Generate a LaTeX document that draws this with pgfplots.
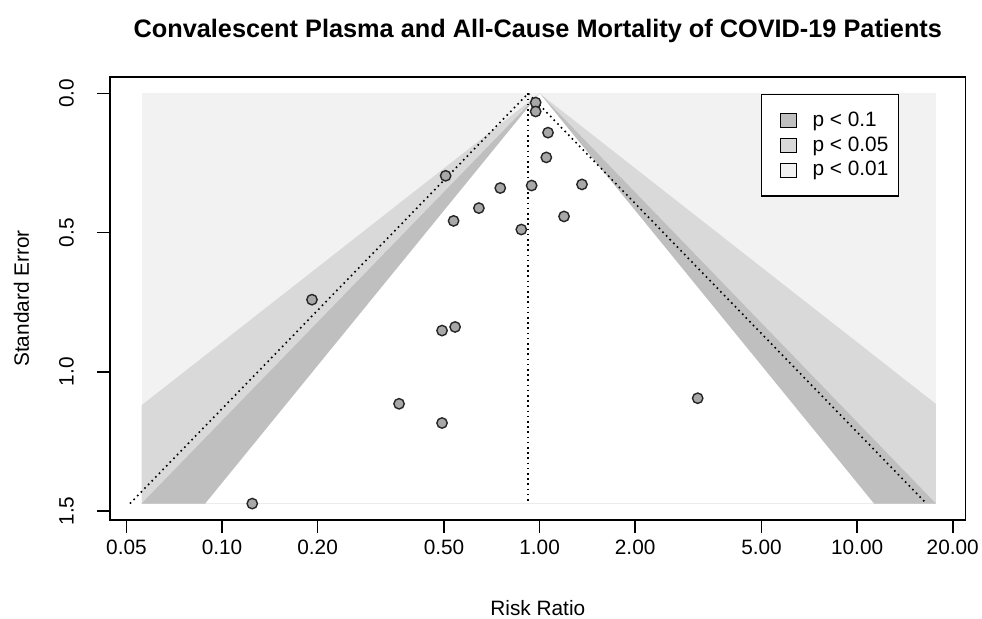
\documentclass[border=0pt]{standalone}
\usepackage{pgfplots}
\pgfplotsset{compat=1.18}
\usepackage{fontspec}
\setmainfont{Liberation Sans}
\definecolor{shadeA}{HTML}{BFBFBF}
\definecolor{shadeB}{HTML}{D9D9D9}
\definecolor{shadeC}{HTML}{F2F2F2}
\definecolor{ptfill}{HTML}{A8A8A8}
\pgfplotsset{
  sqlegend/.style={legend image code/.code={\path[draw=none, fill=none] (0pt,0pt) -- (14.4pt,0pt); \draw[##1, line width=0.5pt] (6.4pt,-3.5pt) rectangle (14.4pt,3.5pt);}},
}
\begin{document}
\begin{tikzpicture}
\path[use as bounding box] (-55pt,-49.5pt) rectangle (436pt,260pt);
\begin{axis}[
  scale only axis, width=427.85pt, height=221.5pt,
  xmode=log, xmin=0.04438, xmax=21.97,
  ymin=-0.0589, ymax=1.5324, y dir=reverse,
  axis line style={line width=0.8pt},
  every tick/.style={black, line width=0.8pt},
  major tick length=6.5pt,
  tick align=outside, xtick pos=bottom, ytick pos=left,
  xtick={0.05,0.1,0.2,0.5,1,2,5,10,20},
  xticklabels={0.05,0.10,0.20,0.50,1.00,2.00,5.00,10.00,20.00},
  ytick={0,0.5,1,1.5},
  yticklabels={0.0,0.5,1.0,1.5},
  minor xtick={}, minor ytick={},
  /pgf/number format/assume math mode=true,
  tick label style={font=\fontsize{10.4}{12}\selectfont},
  yticklabel style={rotate=90, anchor=south},
  yticklabel shift=8pt,
  label style={font=\fontsize{10.4}{12}\selectfont},
  xlabel={Risk Ratio},
  ylabel={Standard Error},
  xlabel style={at={(0.5,0)}, anchor=base, yshift=-48pt},
  ylabel style={at={(-0.0947,0.5)}, anchor=base},
  title={Convalescent Plasma and All-Cause Mortality of COVID-19 Patients},
  title style={at={(0.5,1)}, anchor=base, yshift=13.5pt, font=\bfseries\fontsize{12.65}{15}\selectfont},
  legend style={at={(0.922,0.9616)}, anchor=north east, draw=black, line width=0.6pt, fill=white,
    inner xsep=3pt, inner ysep=6.5pt, row sep=-0.3pt,
    font=\fontsize{10.4}{12}\selectfont,
    /tikz/every odd column/.append style={column sep=6pt}},
  legend cell align=left,
]
% legend entries first
\addlegendimage{sqlegend, fill=shadeA, draw=black}
\addlegendentry{p < 0.1}
\addlegendimage{sqlegend, fill=shadeB, draw=black}
\addlegendentry{p < 0.05}
\addlegendimage{sqlegend, fill=shadeC, draw=black}
\addlegendentry{p < 0.01}
% shaded contour regions
\addplot[fill=shadeC, draw=none, forget plot] coordinates {(0.0558,0) (17.7,0) (17.7,1.4735) (0.0558,1.4735)};
\addplot[fill=shadeB, draw=none, forget plot] coordinates {(1,0) (0.0558,1.1203) (0.0558,1.4735) (17.7,1.4735) (17.7,1.1155)};
\addplot[fill=shadeA, draw=none, forget plot] coordinates {(1,0) (0.0558,1.4735) (17.7,1.4735)};
\addplot[fill=white, draw=none, forget plot] coordinates {(1,0) (0.0886,1.4735) (11.29,1.4735)};
% pseudo confidence region
\addplot[black, line width=0.8pt, dash pattern=on 0.8pt off 1.8pt, forget plot] coordinates {(0.05129,1.4735) (0.921,0) (16.54,1.4735)};
\addplot[black, line width=0.8pt, dash pattern=on 0.8pt off 1.8pt, forget plot] coordinates {(0.921,0) (0.921,1.4735)};
% studies
\addplot[only marks, mark=*, mark size=2.6pt, mark options={fill=ptfill, draw=black!85, line width=0.7pt}, forget plot] coordinates {
(0.972,0.033)
(0.972,0.065)
(1.063,0.141)
(1.050,0.230)
(0.506,0.296)
(0.752,0.340)
(0.944,0.331)
(1.360,0.327)
(0.644,0.412)
(0.536,0.458)
(1.194,0.442)
(0.876,0.489)
(0.192,0.741)
(0.493,0.852)
(0.542,0.839)
(0.361,1.115)
(0.493,1.184)
(3.147,1.095)
(0.1245,1.4735)
};
\end{axis}
\end{tikzpicture}
\end{document}
